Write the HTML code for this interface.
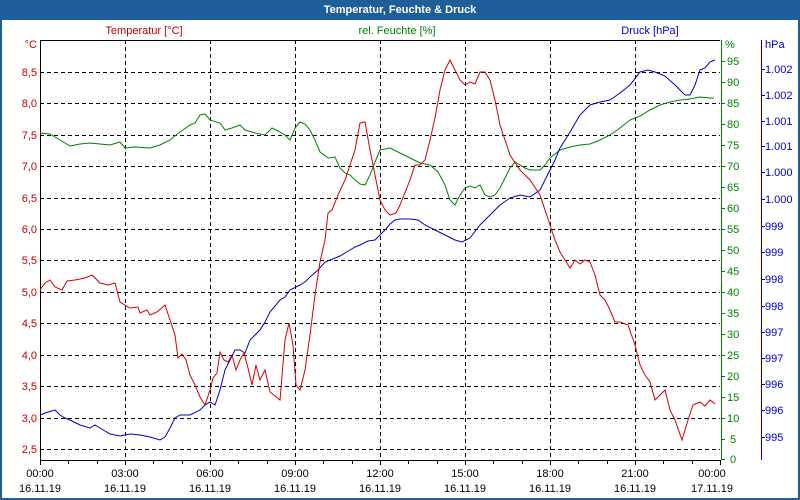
<!DOCTYPE html>
<html><head><meta charset="utf-8"><style>
body{margin:0;width:800px;height:500px;overflow:hidden;background:#fff}
svg{display:block;font-family:"Liberation Sans",Tahoma,sans-serif;font-size:11px}
</style></head><body>
<svg width="800" height="500" viewBox="0 0 800 500" xmlns="http://www.w3.org/2000/svg">
<rect x="0" y="0" width="800" height="500" fill="#1f5f99"/>
<rect x="2" y="20" width="796" height="478" fill="#fff"/>
<text x="400" y="13" fill="#fff" font-weight="bold" text-anchor="middle">Temperatur, Feuchte &amp; Druck</text>
<text x="144" y="34" fill="#c00000" text-anchor="middle">Temperatur [°C]</text>
<text x="397" y="34" fill="#008000" text-anchor="middle">rel. Feuchte [%]</text>
<text x="650" y="34" fill="#0000c0" text-anchor="middle">Druck [hPa]</text>
<g stroke="#000" stroke-dasharray="4,3" stroke-width="1">
<path d="M125.5 40V460M210.5 40V460M295.5 40V460M380.5 40V460M465.5 40V460M550.5 40V460M635.5 40V460"/>
<path d="M40 72.5H720M40 103.5H720M40 135.5H720M40 166.5H720M40 198.5H720M40 229.5H720M40 260.5H720M40 292.5H720M40 323.5H720M40 355.5H720M40 386.5H720M40 418.5H720M40 449.5H720"/>
</g>
<path d="M40 40.5H720" stroke="#000"/>
<path d="M40.5 40V460.5H720" stroke="#000" fill="none"/>
<g stroke="#000"><path d="M40.5 460v5M68.5 460v4M97.5 460v4M125.5 460v5M153.5 460v4M182.5 460v4M210.5 460v5M238.5 460v4M267.5 460v4M295.5 460v5M323.5 460v4M352.5 460v4M380.5 460v5M408.5 460v4M437.5 460v4M465.5 460v5M493.5 460v4M522.5 460v4M550.5 460v5M578.5 460v4M607.5 460v4M635.5 460v5M663.5 460v4M692.5 460v4M720.5 460v5"/></g>
<g fill="#000" text-anchor="middle">
<text x="40" y="477">00:00</text><text x="40" y="492">16.11.19</text>
<text x="125" y="477">03:00</text><text x="125" y="492">16.11.19</text>
<text x="210" y="477">06:00</text><text x="210" y="492">16.11.19</text>
<text x="295" y="477">09:00</text><text x="295" y="492">16.11.19</text>
<text x="380" y="477">12:00</text><text x="380" y="492">16.11.19</text>
<text x="465" y="477">15:00</text><text x="465" y="492">16.11.19</text>
<text x="550" y="477">18:00</text><text x="550" y="492">16.11.19</text>
<text x="635" y="477">21:00</text><text x="635" y="492">16.11.19</text>
<text x="712" y="477">00:00</text><text x="712" y="492">17.11.19</text>
</g>
<g fill="#c00000" text-anchor="end">
<text x="37" y="48">°C</text>
<text x="37" y="76">8,5</text><text x="37" y="107">8,0</text><text x="37" y="139">7,5</text><text x="37" y="170">7,0</text><text x="37" y="202">6,5</text><text x="37" y="233">6,0</text><text x="37" y="264">5,5</text><text x="37" y="296">5,0</text><text x="37" y="327">4,5</text><text x="37" y="359">4,0</text><text x="37" y="390">3,5</text><text x="37" y="422">3,0</text><text x="37" y="453">2,5</text>
</g>
<path d="M721.5 40V460" stroke="#008000"/>
<g stroke="#008000"><path d="M721 61.5h4M721 82.5h4M721 103.5h4M721 124.5h4M721 145.5h4M721 166.5h4M721 187.5h4M721 208.5h4M721 229.5h4M721 250.5h4M721 271.5h4M721 292.5h4M721 313.5h4M721 334.5h4M721 355.5h4M721 376.5h4M721 397.5h4M721 418.5h4M721 439.5h4M721 459.5h4"/></g>
<g fill="#008000">
<text x="725" y="48">%</text>
<text x="727" y="65">95</text><text x="727" y="86">90</text><text x="727" y="107">85</text><text x="727" y="128">80</text><text x="727" y="149">75</text><text x="727" y="170">70</text><text x="727" y="191">65</text><text x="727" y="212">60</text><text x="727" y="233">55</text><text x="727" y="254">50</text><text x="727" y="275">45</text><text x="727" y="296">40</text><text x="727" y="317">35</text><text x="727" y="338">30</text><text x="727" y="359">25</text><text x="727" y="380">20</text><text x="727" y="401">15</text><text x="727" y="422">10</text><text x="730" y="443">5</text><text x="730" y="463">0</text>
</g>
<path d="M761.5 40V460" stroke="#0000c0"/>
<g stroke="#0000c0"><path d="M761 69.5h4M761 95.5h4M761 121.5h4M761 146.5h4M761 172.5h4M761 199.5h4M761 226.5h4M761 252.5h4M761 279.5h4M761 306.5h4M761 332.5h4M761 358.5h4M761 384.5h4M761 410.5h4M761 437.5h4"/></g>
<g fill="#0000c0">
<text x="765" y="48">hPa</text>
<text x="765" y="73">1.002</text><text x="765" y="99">1.002</text><text x="765" y="125">1.001</text><text x="765" y="150">1.001</text><text x="765" y="176">1.000</text><text x="765" y="203">1.000</text><text x="765" y="230">999</text><text x="765" y="256">999</text><text x="765" y="283">998</text><text x="765" y="310">998</text><text x="765" y="336">997</text><text x="765" y="362">997</text><text x="765" y="388">996</text><text x="765" y="414">996</text><text x="765" y="441">995</text>
</g>
<polyline fill="none" stroke="#008000" points="40,133 50,134 60,140 70,146 80,144 90,143 110,145 120,142 125,148 135,147 150,148 160,145 170,140 180,132 190,125 195,123 200,115 205,114 210,120 220,123 225,130 232,128 240,125 245,130 255,133 265,135 272,128 278,131 285,135 290,140 295,128 300,122 305,124 310,130 315,140 320,152 328,158 335,157 340,168 345,173 350,175 355,180 360,184 365,185 370,175 375,162 380,150 390,148 400,153 410,158 420,163 430,165 438,172 445,185 450,200 455,205 460,195 465,188 470,186 475,188 480,185 485,195 490,197 495,195 500,188 505,178 510,168 515,162 520,165 525,168 530,170 540,170 545,165 550,158 560,150 570,147 580,145 590,144 600,140 610,135 620,128 630,120 640,116 650,110 660,105 670,102 680,100 690,99 700,97 710,98 714,98"/>
<polyline fill="none" stroke="#0000c0" points="40,415 48,412 55,410 60,415 65,418 70,420 80,425 90,428 95,425 100,428 110,434 120,436 130,434 140,435 150,437 160,440 165,437 170,428 175,418 180,415 190,415 200,410 205,405 210,402 215,405 220,390 225,370 230,360 235,350 240,350 245,353 250,340 255,335 260,330 265,322 270,312 280,300 285,297 290,290 300,285 305,282 310,277 318,270 325,262 335,258 340,256 345,253 350,250 355,247 360,245 368,241 375,240 380,235 385,230 390,224 395,220 400,219 410,219 418,220 425,225 435,230 445,235 455,240 462,242 470,238 480,225 490,215 500,205 510,198 520,195 530,197 540,190 545,180 550,170 555,160 560,148 570,132 580,115 590,105 600,102 610,100 620,93 630,85 640,72 648,70 655,72 665,76 675,85 685,95 690,95 695,85 700,70 705,68 710,62 715,60"/>
<polyline fill="none" stroke="#d00000" points="40,290 45,283 50,280 55,287 62,290 67,281 75,280 85,278 92,275 100,283 108,285 115,283 120,302 130,308 138,307 140,313 147,310 150,315 157,312 165,305 170,320 175,335 178,358 182,354 186,360 190,375 195,385 200,397 205,405 210,390 213,378 217,373 220,352 224,360 228,362 232,355 236,370 240,360 244,353 248,368 252,385 256,365 260,380 265,370 270,392 280,400 285,340 289,323 293,345 296,385 300,390 305,370 310,335 315,295 320,262 325,240 328,213 332,210 338,195 345,180 350,165 355,150 360,123 365,122 370,150 375,175 380,200 385,210 390,215 396,213 400,205 410,180 415,165 420,165 425,160 430,140 435,118 440,90 445,70 450,60 455,70 460,80 465,85 470,82 475,84 480,72 485,72 490,80 495,100 500,125 505,140 510,155 520,170 530,180 540,195 545,210 550,225 555,240 560,252 565,260 570,268 575,260 580,264 585,260 590,262 595,275 600,295 605,300 610,310 615,322 620,322 628,325 635,345 640,365 645,375 650,382 655,400 660,395 665,390 670,410 675,420 682,440 688,420 693,405 700,402 705,406 710,400 715,404"/>
</svg>
</body></html>
